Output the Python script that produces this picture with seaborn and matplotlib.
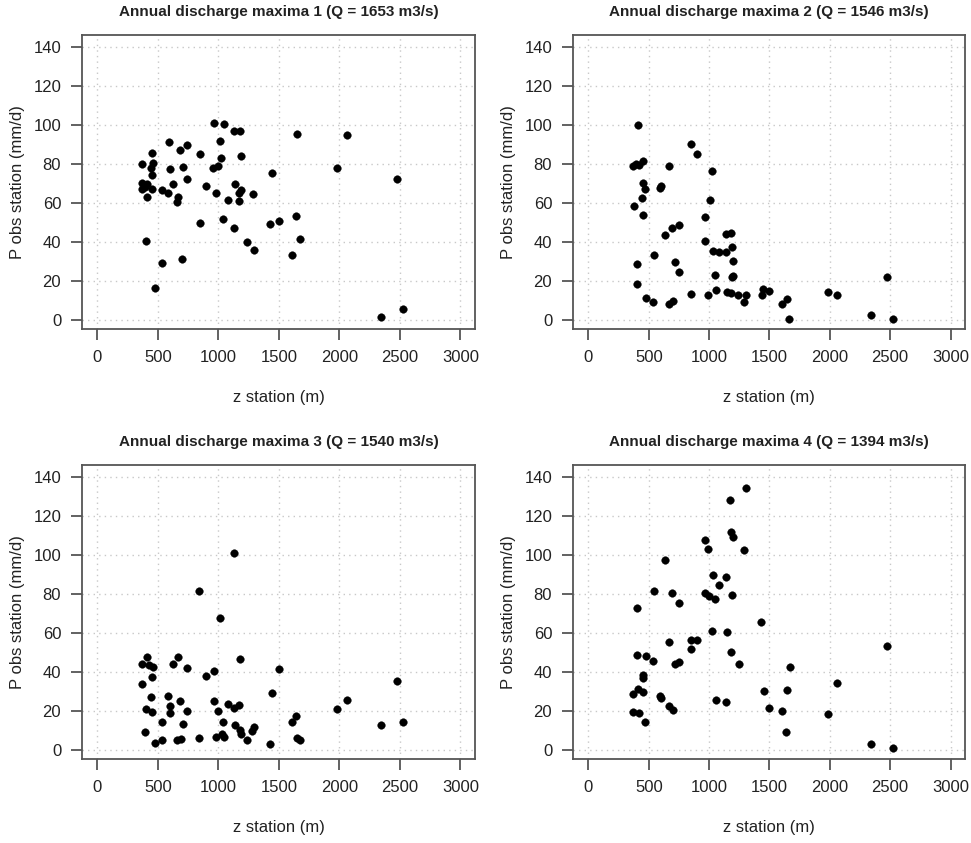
import matplotlib
matplotlib.use("Agg")
import matplotlib.pyplot as plt
import numpy as np
import pandas as pd
import seaborn as sns

z1 = [959, 1049, 1132, 1181, 593, 1011, 742, 681, 448, 846, 1022, 1187, 368, 461, 442,
      596, 709, 956, 992, 1445, 448, 368, 412, 742, 626, 893, 1140, 368, 390, 450, 536,
      585, 983, 1189, 1173, 1283, 412, 665, 659, 1077, 1170, 846, 1036, 1129, 1425, 1496,
      398, 1233, 1294, 533, 698, 478, 1651, 2065, 1983, 2474, 1643, 1670, 1610, 2345, 2529]
p1 = [100.9, 100.5, 96.8, 96.8, 91.1, 91.8, 89.6, 87.2, 85.5, 85.0, 83.0, 83.8, 79.7, 80.4, 78.0,
      77.2, 78.4, 78.0, 79.0, 75.0, 74.3, 70.2, 69.5, 71.9, 69.5, 68.8, 69.5, 66.8, 67.8, 67.1, 66.4,
      65.1, 65.1, 66.4, 65.1, 64.4, 62.9, 62.7, 60.1, 61.3, 61.0, 49.4, 51.4, 47.0, 48.9, 50.4,
      40.4, 40.0, 35.6, 29.0, 31.0, 16.4, 95.2, 94.9, 77.7, 72.2, 53.0, 41.2, 33.2, 1.5, 5.5]

z2 = [410, 851, 901, 372, 391, 419, 455, 668, 1020, 452, 469, 591, 602, 446, 1004, 374, 452,
      965, 749, 690, 632, 1140, 1178, 965, 1190, 1034, 1081, 1137, 541, 1201, 405, 715, 751,
      1045, 1187, 1201, 399, 1059, 851, 993, 1145, 1184, 1242, 1306, 1289, 480, 538, 666, 702,
      1434, 1445, 1500, 1648, 1604, 1665, 1981, 2063, 2472, 2343, 2527]
p2 = [99.7, 90.3, 84.8, 78.6, 79.7, 79.5, 81.4, 78.6, 76.1, 70.1, 67.0, 67.7, 68.4, 62.6, 61.2, 58.1, 53.8,
      52.6, 48.4, 46.8, 43.4, 44.1, 44.4, 40.2, 37.3, 35.0, 34.7, 34.7, 33.3, 29.9, 28.7, 29.4, 24.3,
      22.9, 21.7, 22.2, 18.5, 15.2, 13.3, 12.6, 14.4, 13.7, 12.8, 12.5, 9.2, 10.9, 8.9, 8.2, 9.7,
      12.6, 15.9, 14.9, 10.6, 8.2, 0.3, 14.2, 12.6, 22.1, 2.6, 0.3]

z3 = [1132, 843, 1011, 409, 665, 368, 425, 461, 626, 742, 1181, 893, 959, 450, 368, 442, 582,
      959, 1445, 596, 684, 1077, 1167, 1129, 401, 450, 596, 742, 994, 536, 709, 1038, 1137,
      1181, 1189, 1294, 1280, 1233, 396, 1025, 1049, 981, 843, 659, 692, 533, 478, 1425,
      1503, 2474, 2065, 1983, 1643, 1610, 1651, 1670, 2345, 2529]
p3 = [101.0, 81.2, 67.6, 47.3, 47.6, 44.0, 43.5, 42.3, 43.7, 41.8, 46.4, 37.8, 40.2, 37.3, 33.6, 27.1, 27.4,
      25.2, 28.8, 22.3, 24.8, 23.6, 23.1, 21.2, 20.7, 19.3, 18.8, 19.7, 19.9, 14.2, 13.4, 14.2, 12.8,
      9.9, 8.2, 11.6, 9.8, 4.8, 8.9, 8.2, 6.5, 6.3, 6.0, 5.0, 5.5, 5.1, 3.4, 2.7,
      41.4, 35.1, 25.7, 21.1, 17.0, 14.4, 6.2, 4.8, 12.7, 14.2]

z4 = [1306, 1176, 1184, 1195, 968, 993, 1289, 632, 1032, 1137, 1084, 541, 690, 965, 998, 1045,
      1192, 749, 402, 1431, 1020, 1151, 666, 851, 901, 851, 1184, 399, 480, 538, 715, 751, 1245,
      449, 452, 372, 410, 455, 591, 599, 666, 702, 1059, 1142, 372, 416, 469, 1451, 1500,
      2475, 1668, 1648, 2063, 1604, 1981, 1640, 2343, 2527]
p4 = [134.0, 128.1, 111.5, 109.0, 107.4, 103.0, 102.5, 97.2, 89.8, 88.3, 84.5, 81.6, 80.1, 80.4, 78.7, 77.5,
      79.4, 75.4, 72.9, 65.7, 60.6, 60.1, 55.4, 56.3, 56.3, 51.8, 50.1, 48.6, 47.9, 45.3, 44.1, 44.8, 44.0,
      38.3, 36.6, 28.7, 31.3, 29.8, 27.7, 26.3, 22.2, 20.5, 25.5, 24.3, 19.5, 18.6, 14.4, 30.1, 21.2,
      53.4, 42.4, 30.6, 34.2, 20.0, 18.1, 9.1, 3.1, 0.7]

titles = ["Annual discharge maxima 1 (Q = 1653 m3/s)",
          "Annual discharge maxima 2 (Q = 1546 m3/s)",
          "Annual discharge maxima 3 (Q = 1540 m3/s)",
          "Annual discharge maxima 4 (Q = 1394 m3/s)"]
xticks = [0, 500, 1000, 1500, 2000, 2500, 3000]
yticks = [0, 20, 40, 60, 80, 100, 120, 140]

sns.set_style("white")
plt.rcParams['font.family'] = ['Liberation Sans', 'DejaVu Sans']

fig = plt.figure(figsize=(9.71, 8.43), dpi=100)
W, H = 971, 843
# axes boxes in pixels: left, top, right, bottom
boxes = [(82, 35, 475, 329), (573, 35, 965, 329),
         (82, 465, 475, 759), (573, 465, 965, 759)]

panels = [(z1, p1), (z2, p2), (z3, p3), (z4, p4)]
for (zz, pp), title, (l, t, r, b) in zip(panels, titles, boxes):
    ax = fig.add_axes([l / W, 1 - b / H, (r - l) / W, (b - t) / H])
    df = pd.DataFrame({'z': zz, 'p': pp})
    sns.scatterplot(data=df, x='z', y='p', ax=ax, color='black', s=30,
                    edgecolor='black', linewidth=0.3, zorder=3)
    ax.set_xlim(-128, 3120)
    ax.set_ylim(-4.8, 146)
    ax.set_xticks(xticks)
    ax.set_yticks(yticks)
    ax.grid(True, linestyle=(0, (1, 3)), color='#c8c8c8', linewidth=1)
    ax.set_axisbelow(True)
    for sp in ax.spines.values():
        sp.set_color('#555555')
        sp.set_linewidth(1.3)
    ax.tick_params(axis='both', direction='out', length=8, width=1.3, color='#555555',
                   labelsize=12, labelcolor='#222222', pad=7, bottom=True, left=True)
    ax.set_xlabel('z station (m)', fontsize=12, color='#222222', labelpad=18)
    ax.set_ylabel('P obs station (mm/d)', fontsize=12, color='#222222', labelpad=6)
    ax.set_title(title, fontsize=11, fontweight='bold', color='#222222', pad=14)

plt.savefig('out.png', dpi=100)
